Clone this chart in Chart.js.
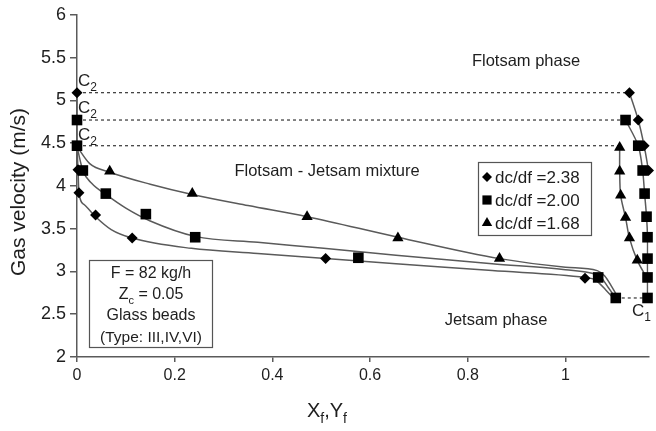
<!DOCTYPE html>
<html>
<head>
<meta charset="utf-8">
<script src="https://cdn.jsdelivr.net/npm/chart.js@4.4.0/dist/chart.umd.min.js"></script>
<style>
  html, body { margin: 0; padding: 0; background: #fff; }
</style>
</head>
<body>
<canvas id="chart" width="656" height="431"></canvas>
<script>
// Gas velocity vs. flotsam/jetsam fraction, three diameter ratios
const seriesLabels = ['dc/df =2.38', 'dc/df =2.00', 'dc/df =1.68'];
const xTickValues = [0, 0.2, 0.4, 0.6, 0.8, 1];
const yTickValues = [2, 2.5, 3, 3.5, 4, 4.5, 5, 5.5, 6];

// measured points (markers)
const d238X = [0, 0.002, 0.004, 0.038, 0.113, 0.509, 1.04, 1.131, 1.149, 1.161, 1.17];
const d238Y = [5.09, 4.19, 3.92, 3.66, 3.39, 3.15, 2.92, 5.09, 4.77, 4.47, 4.18];
const d200X = [0, 0, 0.012, 0.059, 0.141, 0.242, 0.576, 1.067, 1.103, 1.123, 1.149, 1.158, 1.162, 1.166, 1.168, 1.168, 1.168, 1.168];
const d200Y = [4.77, 4.47, 4.18, 3.91, 3.67, 3.40, 3.16, 2.93, 2.69, 4.77, 4.47, 4.18, 3.91, 3.64, 3.40, 3.15, 2.93, 2.69];
const d168X = [0.067, 0.236, 0.471, 0.657, 0.865, 1.111, 1.111, 1.113, 1.123, 1.131, 1.147];
const d168Y = [4.17, 3.91, 3.64, 3.39, 3.15, 4.45, 4.17, 3.89, 3.63, 3.39, 3.13];

// fitted curves, left branch
const fit238X = [0, 0.002, 0.004, 0.015, 0.038, 0.07, 0.113, 0.234, 0.37, 0.509, 0.653, 0.85, 1.04, 1.058, 1.068, 1.083, 1.098];
const fit238Y = [4.46, 4.19, 3.92, 3.78, 3.64, 3.49, 3.39, 3.27, 3.21, 3.15, 3.09, 3.01, 2.93, 2.91, 2.87, 2.78, 2.69];
const fit200X = [0, 0.012, 0.03, 0.059, 0.1, 0.15, 0.242, 0.37, 0.505, 0.653, 0.85, 1.0, 1.06, 1.073, 1.088, 1.103];
const fit200Y = [4.46, 4.18, 4.03, 3.90, 3.74, 3.59, 3.41, 3.34, 3.27, 3.19, 3.09, 3.02, 2.97, 2.93, 2.81, 2.69];
const fit168X = [0, 0.026, 0.067, 0.15, 0.236, 0.35, 0.471, 0.657, 0.865, 1.0, 1.065, 1.08, 1.095, 1.108];
const fit168Y = [4.46, 4.26, 4.16, 4.02, 3.90, 3.77, 3.64, 3.40, 3.15, 3.05, 3.01, 2.95, 2.82, 2.69];

// right branch lines
const rb238X = [1.131, 1.149, 1.161, 1.17, 1.178];
const rb238Y = [5.09, 4.77, 4.47, 4.18, 3.9];
const rb200X = [1.123, 1.149, 1.158, 1.162, 1.166, 1.168, 1.168, 1.168, 1.168];
const rb200Y = [4.77, 4.47, 4.18, 3.91, 3.64, 3.40, 3.15, 2.93, 2.69];
const rb168X = [1.111, 1.111, 1.113, 1.123, 1.131, 1.147, 1.166];
const rb168Y = [4.45, 4.17, 3.89, 3.63, 3.39, 3.13, 2.93];

// C2 / C1 boundary levels
const c2Levels = [5.09, 4.77, 4.47];
const c2EndX = [1.131, 1.123, 1.111];
const c1Level = 2.69;
const c1X = [1.103, 1.168];
const axisSegY = [5.09, 4.46];

const FONT = '"Liberation Sans", Arial, sans-serif';
const LINE = '#5a5a5a';
const TXT = '#1e1e1e';

function pts(xs, ys) {
  return xs.map((x, i) => ({ x: x, y: ys[i] }));
}

function markerSet(label, xs, ys, style, radius) {
  return {
    label: label, data: pts(xs, ys), showLine: false,
    pointStyle: style, pointRadius: radius, pointHoverRadius: radius,
    backgroundColor: '#000', borderColor: '#000', borderWidth: 0, clip: false
  };
}

function curveSet(xs, ys, mono) {
  return {
    data: pts(xs, ys), showLine: true, pointRadius: 0, borderColor: LINE,
    borderWidth: 1.5, tension: mono ? 0 : 0.3,
    cubicInterpolationMode: mono ? 'monotone' : 'default', fill: false
  };
}

function dottedSet(xs, ys) {
  return {
    data: pts(xs, ys), showLine: true, pointRadius: 0, borderColor: '#444',
    borderWidth: 1.3, borderDash: [3, 3], fill: false
  };
}

const datasets = [
  markerSet(seriesLabels[0], d238X, d238Y, 'rectRot', 5.5),
  markerSet(seriesLabels[1], d200X, d200Y, 'rect', 7.5),
  markerSet(seriesLabels[2], d168X, d168Y, 'triangle', 6.5),
  curveSet(fit238X, fit238Y, true),
  curveSet(fit200X, fit200Y, true),
  curveSet(fit168X, fit168Y, true),
  curveSet(rb238X, rb238Y, false),
  curveSet(rb200X, rb200Y, false),
  curveSet(rb168X, rb168Y, false),
  curveSet([0, 0], axisSegY, false)
];
c2Levels.forEach((lvl, i) => datasets.push(dottedSet([0, c2EndX[i]], [lvl, lvl])));
datasets.push(dottedSet(c1X, [c1Level, c1Level]));

// draw text with subscripts: parts = [[text, isSub], ...]
function richText(ctx, parts, x, y, size, align) {
  const subSize = Math.round(size * 0.68);
  let w = 0;
  parts.forEach(p => {
    ctx.font = (p[1] ? subSize : size) + 'px ' + FONT;
    w += ctx.measureText(p[0]).width;
  });
  let cx = align === 'center' ? x - w / 2 : x;
  ctx.textAlign = 'left';
  ctx.textBaseline = 'alphabetic';
  parts.forEach(p => {
    ctx.font = (p[1] ? subSize : size) + 'px ' + FONT;
    ctx.fillText(p[0], cx, p[1] ? y + size * 0.3 : y);
    cx += ctx.measureText(p[0]).width;
  });
}

const annotations = {
  id: 'annotations',
  afterDraw(chart) {
    const ctx = chart.ctx;
    ctx.save();
    ctx.fillStyle = TXT;

    // region labels
    richText(ctx, [['Flotsam phase']], 526, 66, 16.5, 'center');
    richText(ctx, [['Flotsam - Jetsam mixture']], 327, 176, 16.5, 'center');
    richText(ctx, [['Jetsam phase']], 496, 325, 16.5, 'center');

    // C2 / C1 markers
    richText(ctx, [['C'], ['2', true]], 78, 86, 17, 'left');
    richText(ctx, [['C'], ['2', true]], 78, 113, 17, 'left');
    richText(ctx, [['C'], ['2', true]], 78, 140, 17, 'left');
    richText(ctx, [['C'], ['1', true]], 632, 316, 17, 'left');

    // info box
    ctx.strokeStyle = '#555';
    ctx.lineWidth = 1.2;
    ctx.fillStyle = '#fff';
    ctx.fillRect(89, 260, 123, 87);
    ctx.strokeRect(89.5, 260.5, 123, 87);
    ctx.fillStyle = TXT;
    richText(ctx, [['F = 82 kg/h']], 151, 278, 16, 'center');
    richText(ctx, [['Z'], ['c', true], [' = 0.05']], 151, 299, 16, 'center');
    richText(ctx, [['Glass beads']], 151, 320, 16, 'center');
    richText(ctx, [['(Type: III,IV,VI)']], 151, 342, 15.5, 'center');

    // legend box
    ctx.fillStyle = '#fff';
    ctx.fillRect(478, 162, 113, 73);
    ctx.strokeRect(478.5, 162.5, 113, 73);
    const rowY = [177, 200, 223];
    const styles = [['rectRot', 5], ['rect', 6.5], ['triangle', 6]];
    seriesLabels.forEach((lab, i) => {
      ctx.fillStyle = '#000';
      ctx.strokeStyle = '#000';
      Chart.helpers.drawPoint(ctx, { pointStyle: styles[i][0], radius: styles[i][1], rotation: 0, borderWidth: 0 }, 487, rowY[i]);
      ctx.fillStyle = TXT;
      richText(ctx, [[lab]], 495, rowY[i] + 6, 17, 'left');
    });

    // x axis title with subscripts
    ctx.fillStyle = TXT;
    richText(ctx, [['X'], ['f', true], [',Y'], ['f', true]], 327, 417, 20, 'center');

    // y axis title
    ctx.translate(19, 192);
    ctx.rotate(-Math.PI / 2);
    ctx.font = '21px ' + FONT;
    ctx.textAlign = 'center';
    ctx.textBaseline = 'middle';
    ctx.fillText('Gas velocity (m/s)', 0, 0);
    ctx.restore();
  }
};

new Chart(document.getElementById('chart'), {
  type: 'scatter',
  data: { datasets: datasets },
  options: {
    responsive: false,
    animation: false,
    layout: { padding: { top: 14, right: 0, left: 0, bottom: 0 } },
    plugins: { legend: { display: false }, tooltip: { enabled: false } },
    scales: {
      x: {
        type: 'linear', min: 0, max: 1.17,
        border: { display: true, color: LINE, width: 1.5 },
        grid: { drawOnChartArea: false, drawTicks: true, tickLength: 5, color: LINE, lineWidth: 1.5 },
        ticks: { color: TXT, font: { family: FONT, size: 16 }, padding: 4, callback: v => String(v) },
        afterBuildTicks: s => { s.ticks = xTickValues.map(v => ({ value: v })); },
        afterFit: s => { s.height = 74; }
      },
      y: {
        type: 'linear', min: 2, max: 6,
        border: { display: true, color: LINE, width: 1.5 },
        grid: { drawOnChartArea: false, drawTicks: true, tickLength: 7, color: LINE, lineWidth: 1.5 },
        ticks: { color: TXT, font: { family: FONT, size: 18 }, padding: 4, callback: v => String(v) },
        afterBuildTicks: s => { s.ticks = yTickValues.map(v => ({ value: v })); },
        afterFit: s => { s.width = 77; }
      }
    }
  },
  plugins: [annotations]
});
</script>
</body>
</html>
